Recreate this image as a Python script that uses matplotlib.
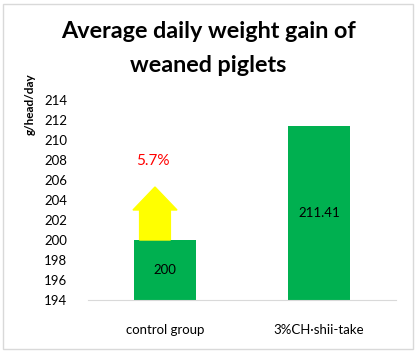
import matplotlib
matplotlib.use("Agg")
import matplotlib.pyplot as plt
from matplotlib.patches import Rectangle, FancyArrow

categories = ["control group", "3%CH\u00b7shii-take"]
values = [200, 211.41]
value_labels = ["200", "211.41"]
yticks = list(range(194, 215, 2))
increase_label = "5.7%"

plt.rcParams['font.family'] = ['Lato', 'DejaVu Sans']

W, H = 417, 353
fig = plt.figure(figsize=(W / 100, H / 100), dpi=100)

# chart outer border
fig.patches.append(Rectangle((3 / W, 4 / H), 410 / W, 345 / H, transform=fig.transFigure,
                             fill=False, edgecolor="#D9D9D9", linewidth=1))

ax = fig.add_axes([88 / W, 1 - 300 / H, 308 / W, 200 / H])
x = range(len(categories))
ax.bar(x, values, width=0.4, color="#00B050", zorder=2)
ax.set_xlim(-0.5, 1.5)
ax.set_ylim(194, 214)
ax.set_yticks(yticks)
ax.set_xticks(list(x))
ax.set_xticklabels(categories, fontsize=9.5)
ax.tick_params(axis="both", length=0, labelsize=9.5, colors="black")
ax.tick_params(axis="x", pad=17)
ax.tick_params(axis="y", pad=15)
for s in ["top", "right", "left"]:
    ax.spines[s].set_visible(False)
ax.spines["bottom"].set_color("#D9D9D9")

for xi, v, lab in zip(x, values, value_labels):
    ax.text(xi, (194 + v) / 2, lab, ha="center", va="center", fontsize=9.5)

# yellow arrow on top of control bar
arrow = FancyArrow(-0.065, values[0], 0, 5.3, width=0.2, head_width=0.286,
                   head_length=2.3, length_includes_head=True,
                   color="#FFFF00", zorder=3)
ax.add_patch(arrow)
ax.text(-0.08, 207.9, increase_label, ha="center", va="center", color="red", fontsize=11)

fig.text(0.5, 1 - 32 / H, "Average daily weight gain of", ha="center", va="center",
         fontsize=16.8, fontweight="bold")
fig.text(0.5, 1 - 66 / H, "weaned piglets", ha="center", va="center",
         fontsize=16.8, fontweight="bold")
fig.text(30 / W, 1 - 104 / H, "g/head/day", rotation=90, ha="center", va="center",
         fontsize=8.5, fontweight="bold")

fig.savefig("out.png", dpi=100)
